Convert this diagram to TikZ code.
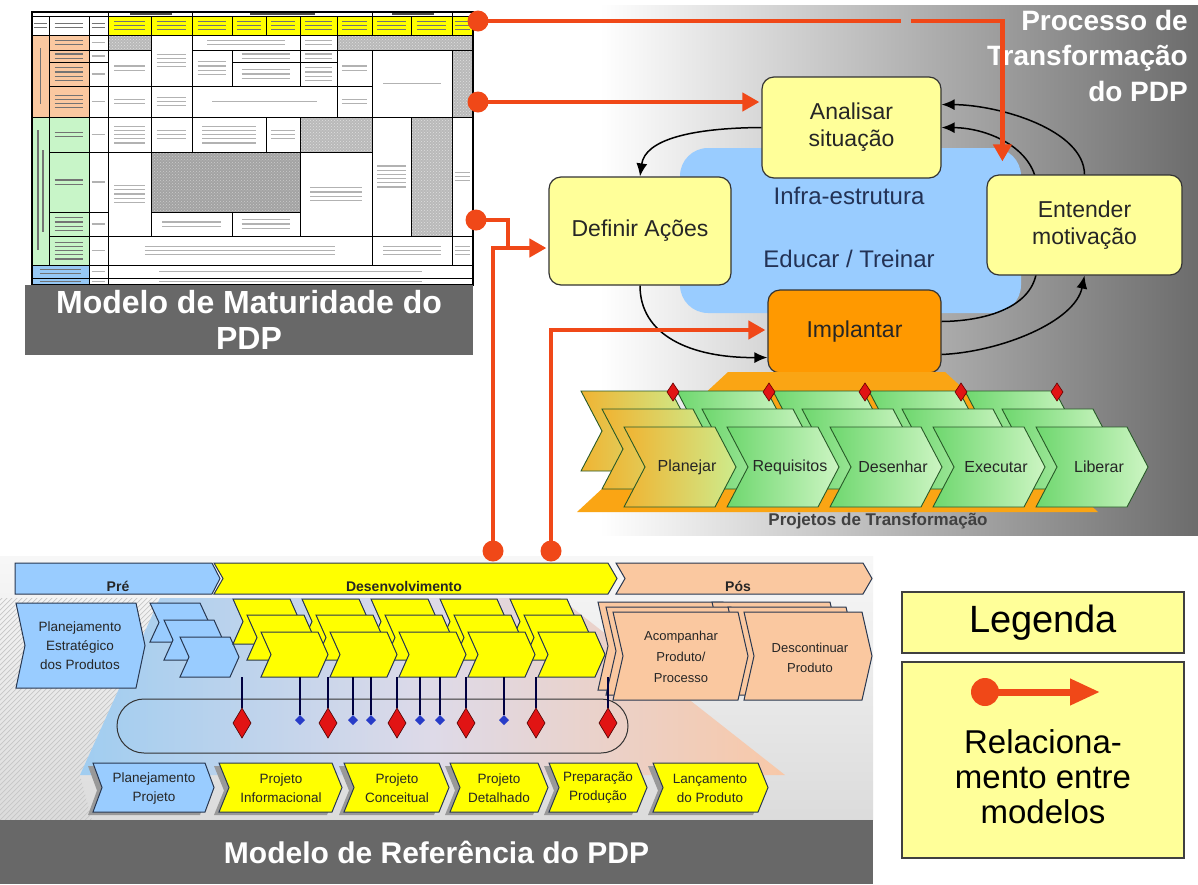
\documentclass[tikz,border=0pt]{standalone}
\usepackage{fontspec}
\setmainfont{Liberation Sans}
\usetikzlibrary{arrows.meta,calc,patterns}

\definecolor{redlink}{RGB}{240,72,24}
\definecolor{boxyellow}{RGB}{255,255,153}
\definecolor{implorange}{RGB}{255,153,0}
\definecolor{infrablue}{RGB}{153,204,255}
\definecolor{infratextc}{RGB}{35,50,85}
\definecolor{barGray}{RGB}{104,104,104}
\definecolor{panelGray}{RGB}{108,108,108}
\definecolor{refblue}{RGB}{153,204,255}
\definecolor{refyellow}{RGB}{255,255,0}
\definecolor{refpeach}{RGB}{250,200,160}
\definecolor{edgeblue}{RGB}{40,55,80}
\definecolor{trapOrange}{RGB}{250,165,20}
\definecolor{trapBlue}{RGB}{160,205,240}
\definecolor{trapMid}{RGB}{222,218,232}
\definecolor{trapPeach}{RGB}{248,200,168}
\definecolor{greenL}{RGB}{110,215,110}
\definecolor{greenR}{RGB}{205,245,195}
\definecolor{planL}{RGB}{240,180,50}
\definecolor{planR}{RGB}{205,235,140}
\definecolor{greenEdge}{RGB}{40,90,40}
\definecolor{tabOrange}{RGB}{250,200,160}
\definecolor{tabGreen}{RGB}{200,245,200}
\definecolor{tabBlue}{RGB}{150,200,245}
\definecolor{tabYellow}{RGB}{255,255,0}
\definecolor{diaRed}{RGB}{225,20,20}
\definecolor{dotBlue}{RGB}{40,60,200}

% chevron outline: style, left x, top y, body width, height, tip depth, notch depth
\newcommand\chev[7]{\path[#1] (#2,#3) -- ++(#4,0) -- ++(#6,#5/2) -- ++(-#6,#5/2) -- ++(-#4,0) -- ++(#7,-#5/2) -- cycle;}

% blurred lettering inside a table cell: x1, y1, x2, y2, number of lines, style
\newcommand\ftext[6]{%
  \pgfmathsetmacro\ftcx{(#1+#3)/2}%
  \pgfmathsetmacro\ftcy{(#2+#4)/2}%
  \pgfmathsetmacro\ftw{0.36*(#3-#1)}%
  \foreach \ftl in {1,...,#5}{%
    \pgfmathsetmacro\fty{\ftcy+(\ftl-(#5+1)/2)*4.2}%
    \draw[#6] (\ftcx-\ftw,\fty) -- (\ftcx+\ftw,\fty);}}

% small milestone diamonds
\newcommand\bigdia[2]{\path[fill=diaRed,draw=black!70!red,line width=0.6pt] (#1,#2-15) -- (#1+9,#2) -- (#1,#2+15) -- (#1-9,#2) -- cycle;}
\newcommand\smalldia[2]{\path[fill=dotBlue] (#1,#2-5) -- (#1+5,#2) -- (#1,#2+5) -- (#1-5,#2) -- cycle;}
\newcommand\topdia[2]{\path[fill=diaRed,draw=black!60!red,line width=0.6pt] (#1,#2-9) -- (#1+6,#2) -- (#1,#2+9) -- (#1-6,#2) -- cycle;}

\tikzset{
  cell/.style={draw=black, line width=0.8pt},
  tabink/.style={draw=gray!60, line width=1.2pt},
  tabinkdark/.style={draw=black!55, line width=1.2pt},
  ybox/.style={draw=black!80, line width=1.2pt, fill=boxyellow, rounded corners=12pt,
    align=center, font=\fontsize{23}{27}\selectfont, text=black!85, inner sep=0pt},
  infratext/.style={font=\fontsize{24}{28}\selectfont, text=infratextc},
  cyclearrow/.style={line width=1.5pt, draw=black, -{Latex[length=13pt,width=11pt]}},
  redline/.style={line width=4.5pt, draw=redlink},
  redarrow/.style={redline, -{Triangle[length=17pt,width=18pt]}, shorten >=2pt},
  reddot/.style={circle, fill=redlink, minimum size=21pt, inner sep=0pt},
  titlebar/.style={fill=barGray, text=white, align=center, inner sep=0pt,
    font=\bfseries\fontsize{32}{36}\selectfont},
  pjplan/.style={left color=planL, right color=planR, draw=greenEdge, line width=0.9pt},
  pjgreen/.style={left color=greenL, right color=greenR, draw=greenEdge, line width=0.9pt},
  pjtext/.style={font=\fontsize{16}{19}\selectfont, text=black!85},
  rblue/.style={fill=refblue, draw=edgeblue, line width=1pt},
  ryellow/.style={fill=refyellow, draw=edgeblue, line width=1pt},
  rpeach/.style={fill=refpeach, draw=edgeblue, line width=1pt},
  rshadow/.style={fill=black!40},
  reftext/.style={font=\fontsize{13.5}{19}\selectfont, align=center, text=black!85},
  bartext/.style={font=\bfseries\fontsize{14}{16}\selectfont, text=black!85, inner sep=1pt},
  stem/.style={draw=black!75!blue, line width=1.2pt},
  legbox/.style={draw=black!75, line width=1.5pt, fill=boxyellow, minimum width=282pt},
}

\begin{document}
\begin{tikzpicture}[x=1pt,y=-1pt]
\useasboundingbox (0,0) rectangle (1198,884);
\fill[white] (0,0) rectangle (1198,884);

% ---------- backgrounds ----------
\shade[left color=white, right color=panelGray] (600,5) rectangle (1198,535);
\shade[top color=black!3, bottom color=black!14] (0,556) rectangle (873,820);
\begin{scope}
  \clip (0,598) -- (160,598) -- (80,775) -- (92,820) -- (0,820) -- cycle;
  \foreach \k in {-300,-295,...,200} \draw[gray!45, line width=0.7pt] (\k,820) -- (\k+230,590);
\end{scope}
\shade[left color=trapBlue, right color=trapPeach, middle color=trapMid]
  (160,598) -- (560,598) -- (785,775) -- (80,775) -- cycle;

% ---------- maturity table ----------
\fill[white] (32,12) rectangle (473,285);
% group header row
\draw[cell] (32,12) rectangle (473,16);
\foreach \xa/\xb in {108/192,192/372,372/452}{\draw[cell] (\xa,12) rectangle (\xb,16);}
\foreach \xa/\xb in {130/172,250/315,392/434}{\draw[black!70, line width=2pt] (\xa,14) -- (\xb,14);}
% header row
\foreach \xa/\xb in {32/49,49/89,89/108}{%
  \ftext{\xa}{16}{\xb}{35}{2}{tabinkdark}\draw[cell] (\xa,16) rectangle (\xb,35);}
\foreach \xa/\xb in {108/151,151/192,192/232,232/266,266/300,300/337,337/372,372/411,411/452,452/473}{%
  \fill[tabYellow] (\xa,16) rectangle (\xb,35);
  \ftext{\xa}{16}{\xb}{35}{3}{tabinkdark}\draw[cell] (\xa,16) rectangle (\xb,35);}
% category strips
\fill[tabOrange] (32,35) rectangle (49,117);
\fill[tabGreen] (32,117) rectangle (49,265);
\draw[cell] (32,35) rectangle (49,117);
\draw[cell] (32,117) rectangle (49,265);
\draw[black!55, line width=1.2pt] (40.5,48) -- (40.5,104);
\draw[black!55, line width=1.2pt] (38,130) -- (38,250);
\draw[black!55, line width=1.2pt] (43,150) -- (43,232);
% sub-category cells
\foreach \xa/\ya/\xb/\yb/\nl in {49/35/89/50/2,49/50/89/62/2,49/62/89/86/4,49/86/89/117/4}{%
  \fill[tabOrange] (\xa,\ya) rectangle (\xb,\yb);
  \ftext{\xa}{\ya}{\xb}{\yb}{\nl}{tabinkdark}\draw[cell] (\xa,\ya) rectangle (\xb,\yb);}
\foreach \xa/\ya/\xb/\yb/\nl in {49/117/89/152/2,49/152/89/212/2,49/212/89/236/4,49/236/89/265/5}{%
  \fill[tabGreen] (\xa,\ya) rectangle (\xb,\yb);
  \ftext{\xa}{\ya}{\xb}{\yb}{\nl}{tabinkdark}\draw[cell] (\xa,\ya) rectangle (\xb,\yb);}
\foreach \xa/\ya/\xb/\yb/\nl in {32/265/89/278/2,32/278/89/285/1}{%
  \fill[tabBlue] (\xa,\ya) rectangle (\xb,\yb);
  \ftext{\xa}{\ya}{\xb}{\yb}{\nl}{tabinkdark}\draw[cell] (\xa,\ya) rectangle (\xb,\yb);}
% body cells with lettering
\foreach \xa/\ya/\xb/\yb/\nl in {
  89/35/108/50/1,89/50/108/62/1,89/62/108/86/1,89/86/108/117/1,89/117/108/152/1,
  89/152/108/212/1,89/212/108/236/1,89/236/108/265/1,89/265/108/278/1,89/278/108/285/1,
  151/35/192/86/4,192/35/300/50/2,300/35/337/50/2,108/50/151/86/2,192/50/232/86/4,
  232/50/300/62/2,232/62/300/86/3,300/50/337/62/2,300/62/337/86/4,337/50/372/86/2,
  337/86/372/117/2,372/50/452/117/1,108/86/151/117/2,151/86/192/117/3,192/86/337/117/1,
  108/117/151/152/5,108/152/151/236/5,151/117/192/152/3,192/117/266/152/5,266/117/300/152/3,
  372/117/411/236/6,452/117/473/236/3,300/152/372/236/4,151/212/232/236/2,232/212/300/236/3,
  108/236/372/265/3,372/236/452/265/3,452/236/473/265/3,108/265/473/278/1,108/278/473/285/1}{%
  \ftext{\xa}{\ya}{\xb}{\yb}{\nl}{tabink}\draw[cell] (\xa,\ya) rectangle (\xb,\yb);}
% shaded cells
\foreach \xa/\ya/\xb/\yb in {108/35/151/50,337/35/473/50,452/50/473/117,300/117/372/152,411/117/452/236}{%
  \fill[gray!55] (\xa,\ya) rectangle (\xb,\yb);
  \fill[pattern=crosshatch dots, pattern color=gray!25] (\xa,\ya) rectangle (\xb,\yb);
  \draw[cell] (\xa,\ya) rectangle (\xb,\yb);}
\fill[gray!72] (151,152) rectangle (300,212);
\fill[pattern=crosshatch dots, pattern color=gray!40] (151,152) rectangle (300,212);
\draw[cell] (151,152) rectangle (300,212);
\draw[line width=1.2pt] (32,12) rectangle (473,285);
\node[titlebar, minimum width=448pt, minimum height=70pt] (mmbar) at (249,320)
  {Modelo de Maturidade do\\PDP};

% ---------- transformation cycle ----------
\fill[infrablue, rounded corners=28pt] (680,148) rectangle (1021,313);
\node[ybox, minimum width=179pt, minimum height=101pt] (ana) at (851.5,127.5) {Analisar\\situação};
\node[ybox, minimum width=182pt, minimum height=108pt] (def) at (640,231) {Definir Ações};
\node[ybox, fill=implorange, minimum width=173pt, minimum height=83pt] (imp) at (854.5,331.5) {Implantar};
% return path passing behind the motivation box
\draw[cyclearrow] ($(imp.east)+(0,-10)$) .. controls (990,321) and (1037,305) .. (1037,265)
  -- (1037,190) .. controls (1037,150) and (990,128) .. (ana.east);
\node[ybox, minimum width=195pt, minimum height=100pt] (ent) at (1084.5,225) {Entender\\motivação};
\node[infratext] (infra) at (849,196) {Infra-estrutura};
\node[infratext] (edu) at (849,259) {Educar / Treinar};
\draw[cyclearrow] (ana.west) .. controls (690,128) and (645,140) .. (def.north);
\draw[cyclearrow] (def.south) .. controls (640,335) and (690,358) .. ($(imp.west)+(0,26)$);
\draw[cyclearrow] ($(imp.east)+(0,23)$) .. controls (1000,352) and (1075,322) .. (ent.south);
\draw[cyclearrow] (ent.north) .. controls (1084,130) and (1000,105) .. ($(ana.east)+(0,-23)$);

% ---------- transformation projects ----------
\fill[trapOrange] (728,372) -- (945,372) -- (1098,512) -- (577,512) -- cycle;
\foreach \i in {0,...,4}{%
  \pgfmathsetmacro\L{581+96*\i}%
  \ifnum\i=0 \chev{pjplan}{\L}{391}{90}{80}{21}{21}\else\chev{pjgreen}{\L}{391}{90}{80}{21}{21}\fi}
\foreach \i in {0,...,4}{%
  \pgfmathsetmacro\L{673+96*\i}%
  \topdia{\L}{392}}
\foreach \i in {0,...,4}{%
  \pgfmathsetmacro\L{602+100*\i}%
  \ifnum\i=0 \chev{pjplan}{\L}{409}{91}{80}{21}{21}\else\chev{pjgreen}{\L}{409}{91}{80}{21}{21}\fi}
\foreach \i in {0,...,4}{%
  \pgfmathsetmacro\L{624+103*\i}%
  \ifnum\i=0 \chev{pjplan}{\L}{427}{91}{80}{21}{21}\else\chev{pjgreen}{\L}{427}{91}{80}{21}{21}\fi}
\node[pjtext] (pj1) at (687,467) {Planejar};
\node[pjtext] (pj2) at (790,467) {Requisitos};
\node[pjtext] (pj3) at (893,467) {Desenhar};
\node[pjtext] (pj4) at (996,467) {Executar};
\node[pjtext] (pj5) at (1099,467) {Liberar};
\node[font=\bfseries\fontsize{17}{20}\selectfont, text=black!75] (pjt) at (878,521) {Projetos de Transformação};

\node[anchor=north east, align=right, inner sep=0pt, text=white,
  font=\bfseries\fontsize{28}{35.5}\selectfont] (ptitle) at (1188,10) {Processo de\\Transformação\\do PDP};

% ---------- reference model ----------
\chev{rblue}{15}{563}{197}{31}{8}{0}
\chev{ryellow}{214}{563}{394}{31}{9}{9}
\chev{rpeach}{616}{563}{247}{31}{9}{9}
\node[bartext] (pre) at (118,586) {Pré};
\node[bartext] (desen) at (404,586) {Desenvolvimento};
\node[bartext] (pos) at (738,586) {Pós};

\chev{rblue}{16}{603}{120}{85}{9}{9}
\node[reftext] (pe) at (80,646) {Planejamento\\Estratégico\\dos Produtos};
\chev{rblue}{150}{603}{50}{39}{9}{9}
\chev{rblue}{164}{620}{50}{40}{9}{9}
\chev{rblue}{180}{637}{50}{40}{9}{9}
\foreach \L in {261,330,399,468,538}{\chev{ryellow}{\L-28}{599}{57}{45}{10}{10}}
\foreach \L in {261,330,399,468,538}{\chev{ryellow}{\L-14}{615}{57}{45}{10}{10}}
\foreach \L in {261,330,399,468,538}{\chev{ryellow}{\L}{632}{57}{45}{10}{10}}

\chev{rpeach}{598}{602}{125}{88}{10}{10}
\chev{rpeach}{712}{602}{118}{88}{10}{10}
\chev{rpeach}{606}{607}{125}{88}{10}{10}
\chev{rpeach}{728}{607}{118}{88}{10}{10}
\chev{rpeach}{613}{612}{125}{88}{10}{10}
\chev{rpeach}{744}{612}{118}{88}{10}{10}
\node[reftext, font=\fontsize{13}{21}\selectfont] (acomp) at (681,657) {Acompanhar\\Produto/\\Processo};
\node[reftext, font=\fontsize{13}{20}\selectfont] (descont) at (810,658) {Descontinuar\\Produto};

\node[draw=black!80, line width=1pt, rounded corners=27pt, minimum width=511pt, minimum height=54pt, inner sep=0pt] (gate) at (372.5,726) {};
\foreach \x in {242,328,397,466,536,608}{\draw[stem] (\x,677) -- (\x,708); \bigdia{\x}{723}}
\foreach \x in {300,353,371,420,440,504}{\draw[stem] (\x,677) -- (\x,715); \smalldia{\x}{720}}

\chev{rshadow}{93-5}{763+3}{112}{49}{9}{9}
\chev{rshadow}{219-5}{763+3}{113}{49}{10}{10}
\chev{rshadow}{344-5}{763+3}{95}{49}{10}{10}
\chev{rshadow}{450-5}{763+3}{88}{49}{10}{10}
\chev{rshadow}{549-5}{763+3}{88}{49}{10}{10}
\chev{rshadow}{653-5}{763+3}{105}{49}{10}{10}
\chev{rblue}{93}{763}{112}{49}{9}{9}
\chev{ryellow}{219}{763}{113}{49}{10}{10}
\chev{ryellow}{344}{763}{95}{49}{10}{10}
\chev{ryellow}{450}{763}{88}{49}{10}{10}
\chev{ryellow}{549}{763}{88}{49}{10}{10}
\chev{ryellow}{653}{763}{105}{49}{10}{10}
\node[reftext] (pp) at (154,788) {Planejamento\\Projeto};
\node[reftext] (pinf) at (281,788) {Projeto\\Informacional};
\node[reftext] (pconc) at (397,788) {Projeto\\Conceitual};
\node[reftext] (pdet) at (499,788) {Projeto\\Detalhado};
\node[reftext] (pprod) at (598,788) {Preparação\\Produção};
\node[reftext] (plan) at (710,788) {Lançamento\\do Produto};

\node[titlebar, font=\bfseries\fontsize{30}{34}\selectfont, minimum width=873pt, minimum height=64pt] (rmbar) at (436.5,852) {Modelo de Referência do PDP};

% ---------- links between models ----------
\node[reddot] (d1) at (478,21) {};
\node[reddot] (d2) at (478,102) {};
\node[reddot] (d3) at (476,220) {};
\node[reddot] (d4) at (493,551) {};
\node[reddot] (d5) at (551,551) {};
\coordinate (gapL) at (901,21);
\coordinate (gapR) at (911,21);
\coordinate (j1) at (508,248);
\coordinate (j2) at (551,330);
\draw[redline] (d1.center) -- (gapL);
\draw[redarrow, shorten >=13pt] (gapR) -| ($(ent.north west)+(16,0)$);
\draw[redarrow] (d2.center) -- (d2.center -| ana.west);
\draw[redline] (d3.center) -| (j1);
\draw[redarrow] (d4.center) |- (def.west |- j1);
\draw[redarrow] (d5.center) |- (imp.west |- j2);

% ---------- legend ----------
\node[legbox, minimum height=61pt, font=\fontsize{38}{44}\selectfont] (leg1) at (1043,622.5) {Legenda};
\node[legbox, minimum height=196pt] (leg2) at (1043,760) {};
\node[reddot, minimum size=28pt] (ldot) at (985,692) {};
\coordinate (ltip) at (1100,692);
\draw[line width=7pt, draw=redlink, -{Triangle[length=30pt,width=25pt]}] (ldot.center) -- (ltip);
\node[align=center, font=\fontsize{33}{35}\selectfont] (legtxt) at (1043,777) {Relaciona-\\mento entre\\modelos};
\end{tikzpicture}
\end{document}
